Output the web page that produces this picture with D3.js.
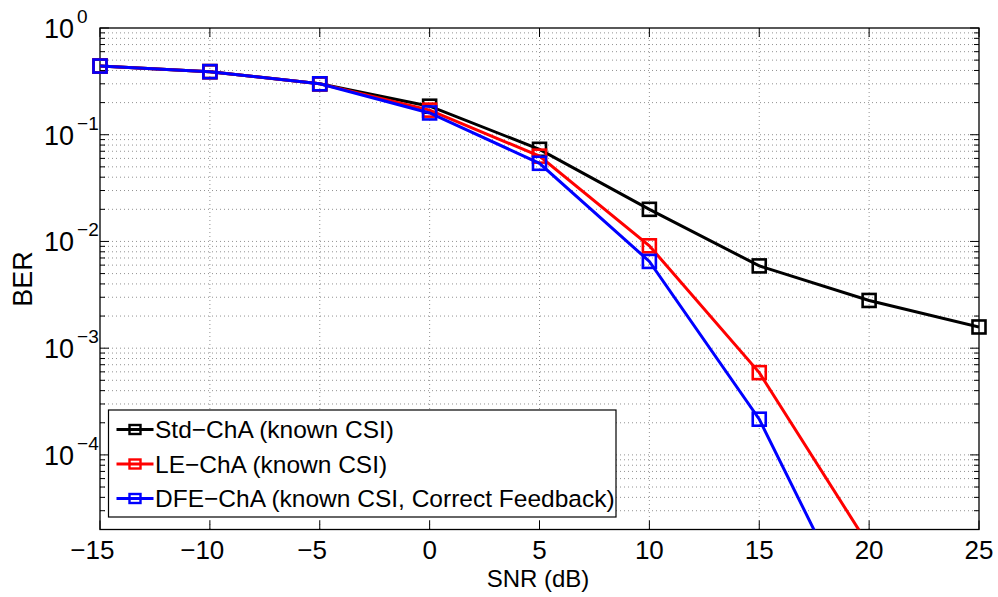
<!DOCTYPE html>
<html><head><meta charset="utf-8">
<script src="https://cdn.jsdelivr.net/npm/d3@7"></script>
<style>body{margin:0;background:#fff}svg{display:block}text{font-family:"Liberation Sans",Arial,sans-serif;fill:#000}</style>
</head><body><svg id="c" width="998" height="597"></svg>
<script>
const snr = [-15, -10, -5, 0, 5, 10, 15, 20, 25];
const stdChA = [0.44, 0.39, 0.30, 0.185, 0.073, 0.020, 0.0059, 0.0028, 0.00158];
const leChA  = [0.44, 0.39, 0.30, 0.17, 0.063, 0.0091, 0.00059, 0.000014, null];
const dfeChA = [0.44, 0.39, 0.30, 0.16, 0.054, 0.0065, 0.000216, 0.0000018, null];
const seriesNames = ["Std\u2212ChA (known CSI)", "LE\u2212ChA (known CSI)", "DFE\u2212ChA (known CSI, Correct Feedback)"];
const seriesColors = ["#000000", "#ff0000", "#0000ff"];
const xTicks = [-15, -10, -5, 0, 5, 10, 15, 20, 25];
const yTickExps = [0, -1, -2, -3, -4];

const svg = d3.select("#c");
const L = 100, R = 979, T = 28, B = 529.5;
const x = d3.scaleLinear().domain([-15, 25]).range([L, R]);
const y = d3.scaleLog().domain([2e-5, 1]).range([B, T]);

const minorY = [];
for (let e = -5; e < 0; e++) for (let m = 2; m <= 9; m++) {
  const v = m * Math.pow(10, e);
  if (v > 2e-5 && v < 1) minorY.push(v);
}
const majorY = yTickExps.map(e => Math.pow(10, e));

const grid = svg.append("g").attr("stroke", "#222").attr("stroke-width", 0.7).attr("stroke-dasharray", "1,3").attr("opacity", 0.7);
xTicks.slice(1, -1).forEach(v => grid.append("line").attr("x1", x(v)).attr("x2", x(v)).attr("y1", T).attr("y2", B));
majorY.concat(minorY).forEach(v => { if (y(v) > T + 0.5 && y(v) < B - 0.5) grid.append("line").attr("x1", L).attr("x2", R).attr("y1", y(v)).attr("y2", y(v)); });

svg.append("rect").attr("x", L).attr("y", T).attr("width", R - L).attr("height", B - T).attr("fill", "none").attr("stroke", "#000").attr("stroke-width", 1.3);

const tk = svg.append("g").attr("stroke", "#000").attr("stroke-width", 1);
xTicks.forEach(v => {
  tk.append("line").attr("x1", x(v)).attr("x2", x(v)).attr("y1", B).attr("y2", B - 9);
  tk.append("line").attr("x1", x(v)).attr("x2", x(v)).attr("y1", T).attr("y2", T + 9);
});
majorY.forEach(v => {
  tk.append("line").attr("x1", L).attr("x2", L + 9).attr("y1", y(v)).attr("y2", y(v));
  tk.append("line").attr("x1", R).attr("x2", R - 9).attr("y1", y(v)).attr("y2", y(v));
});
minorY.forEach(v => {
  tk.append("line").attr("x1", L).attr("x2", L + 5).attr("y1", y(v)).attr("y2", y(v));
  tk.append("line").attr("x1", R).attr("x2", R - 5).attr("y1", y(v)).attr("y2", y(v));
});

// x tick labels: digits centred on the tick, minus sign hanging to the left
xTicks.forEach(v => {
  const t = svg.append("text").attr("x", x(v)).attr("y", 559).attr("text-anchor", "middle").attr("font-size", 26)
    .text(String(Math.abs(v)));
  if (v < 0) {
    const w = t.node().getComputedTextLength();
    svg.append("text").attr("x", x(v) - w / 2).attr("y", 559).attr("text-anchor", "end").attr("font-size", 26).text("\u2212");
  }
});
yTickExps.forEach(e => {
  const t = svg.append("text").attr("x", 44).attr("y", y(Math.pow(10, e)) + 10).attr("font-size", 27);
  t.append("tspan").text("10");
  t.append("tspan").attr("font-size", 19).attr("dx", 3).attr("dy", -15).text(e === 0 ? "0" : "\u2212" + Math.abs(e));
});

svg.append("text").attr("x", 538).attr("y", 587).attr("text-anchor", "middle").attr("font-size", 24).text("SNR (dB)");
svg.append("text").attr("transform", "translate(32,279) rotate(-90)").attr("text-anchor", "middle").attr("font-size", 27).text("BER");

svg.append("clipPath").attr("id", "pc").append("rect").attr("x", L).attr("y", T).attr("width", R - L).attr("height", B - T);

const data = [stdChA, leChA, dfeChA];
const line = d3.line().defined(d => d[1] != null).x(d => x(d[0])).y(d => y(d[1]));
const ms = 13;
data.forEach((vals, i) => {
  const pts = snr.map((s, j) => [s, vals[j]]);
  svg.append("path").attr("d", line(pts)).attr("fill", "none").attr("stroke", seriesColors[i]).attr("stroke-width", 3).attr("clip-path", "url(#pc)");
  svg.append("g").selectAll("rect").data(pts.filter(d => d[1] != null && d[1] >= 2e-5 && d[1] <= 1)).join("rect")
    .attr("x", d => x(d[0]) - ms / 2).attr("y", d => y(d[1]) - ms / 2).attr("width", ms).attr("height", ms)
    .attr("fill", "none").attr("stroke", seriesColors[i]).attr("stroke-width", 2.6);
});

const lg = svg.append("g");
lg.append("rect").attr("x", 108.5).attr("y", 410).attr("width", 507.5).attr("height", 107).attr("fill", "#fff").attr("stroke", "#000").attr("stroke-width", 1.2);
seriesNames.forEach((n, i) => {
  const cy = 429.5 + i * 34.5;
  lg.append("line").attr("x1", 116.5).attr("x2", 153.5).attr("y1", cy).attr("y2", cy).attr("stroke", seriesColors[i]).attr("stroke-width", 3);
  lg.append("rect").attr("x", 135 - 5.5).attr("y", cy - 4.5).attr("width", 11).attr("height", 9).attr("fill", "none").attr("stroke", seriesColors[i]).attr("stroke-width", 2.4);
  lg.append("text").attr("x", 155).attr("y", cy + 8.5).attr("font-size", 24.5).text(n);
});
</script></body></html>
